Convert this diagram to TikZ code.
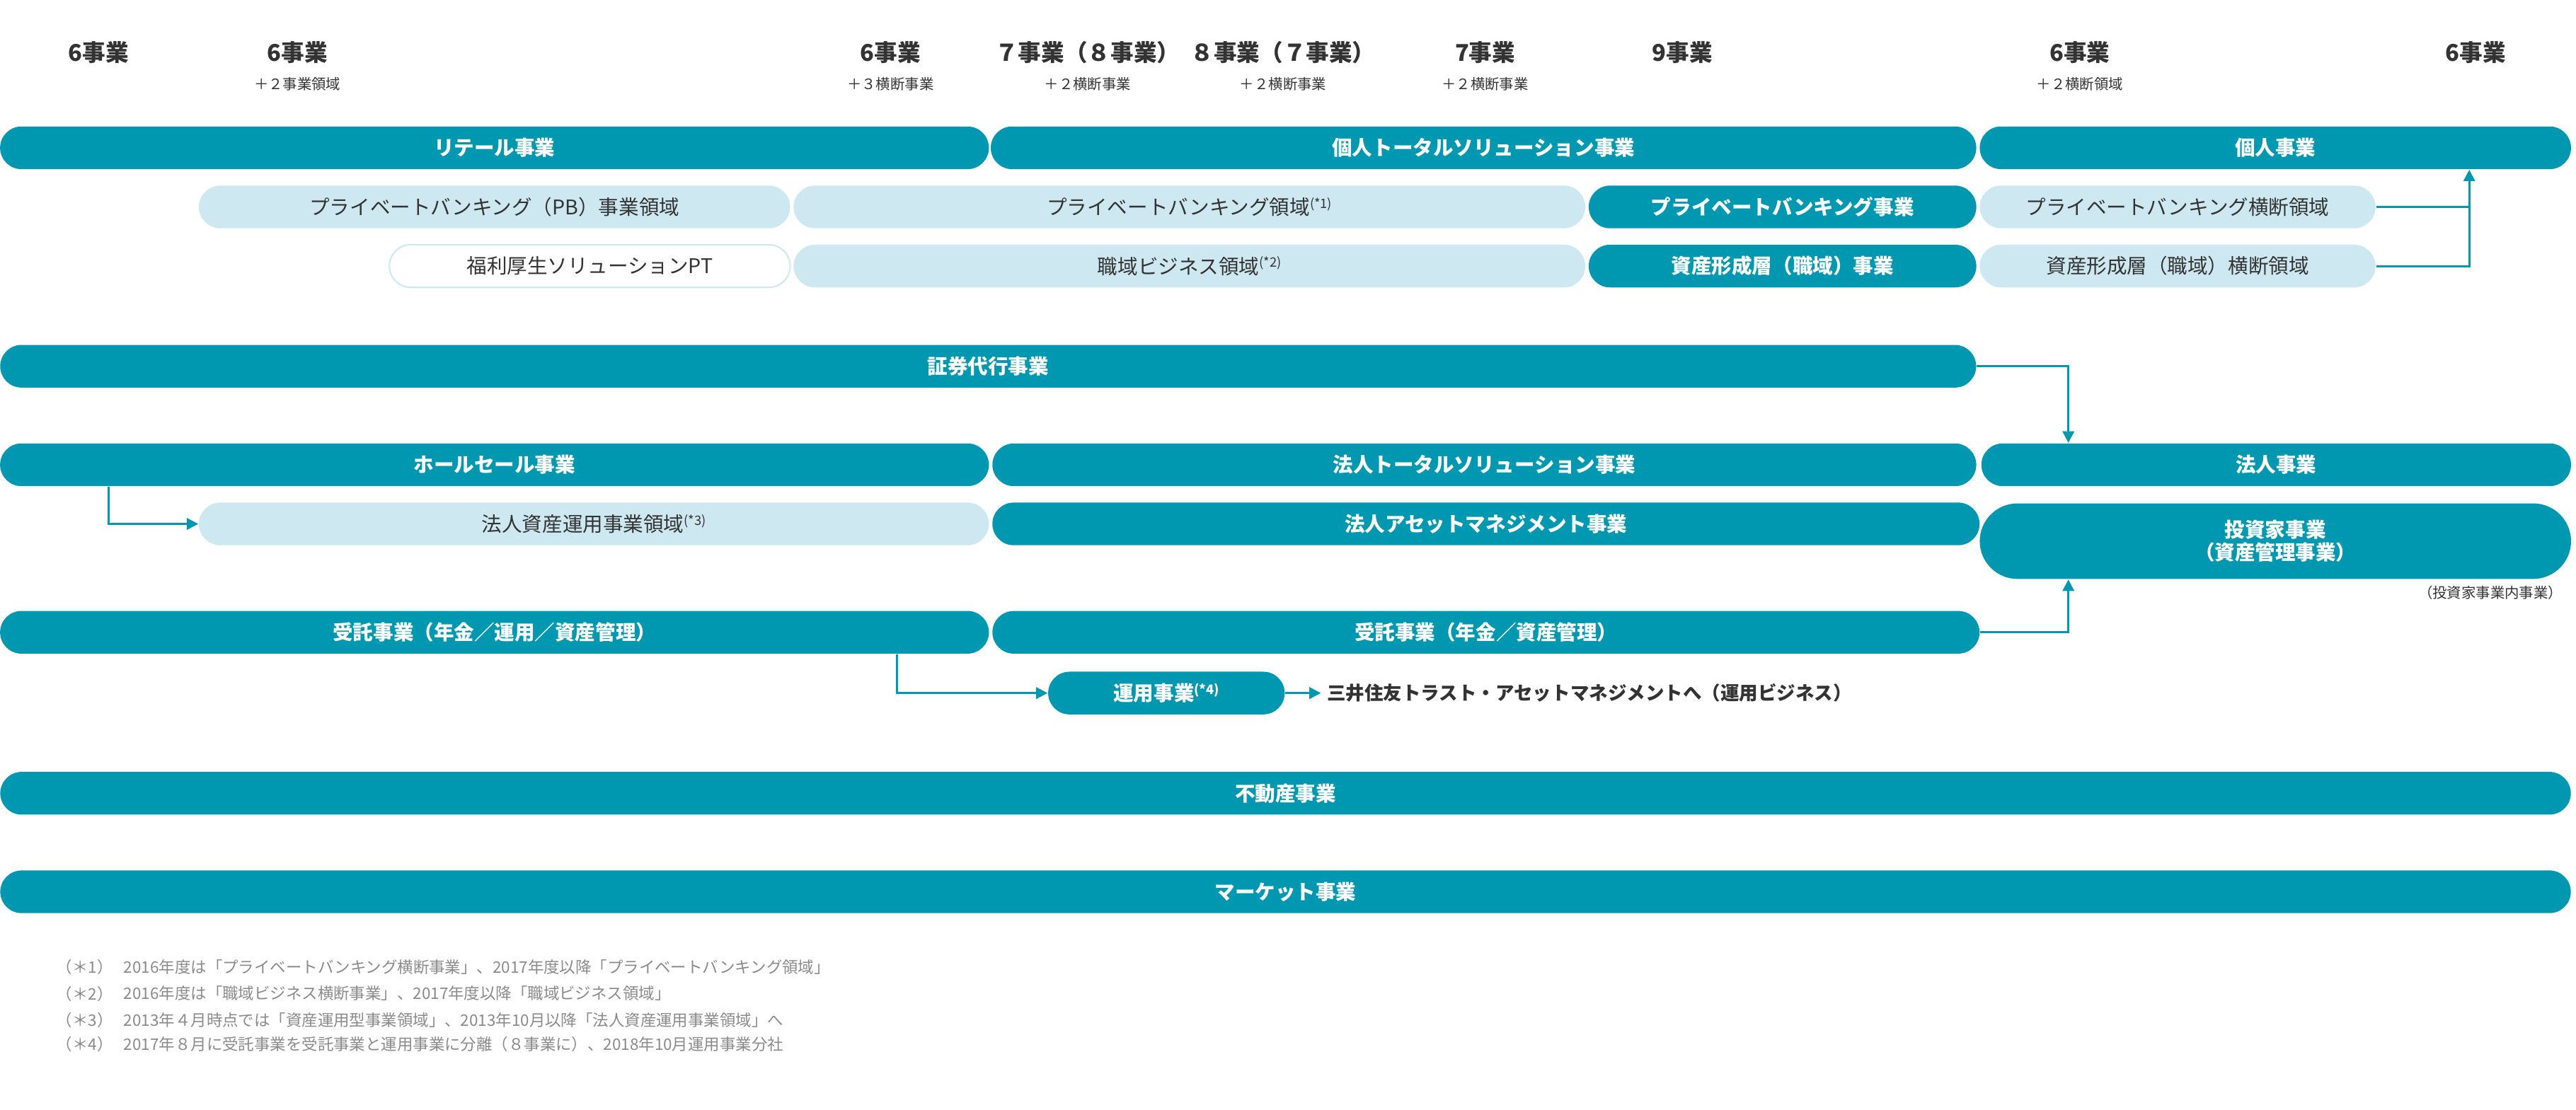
\documentclass[tikz,border=0pt]{standalone}
\usepackage{fontspec}
\setmainfont{Noto Sans CJK JP}
\usetikzlibrary{arrows.meta}
\definecolor{teal}{HTML}{0097B0}
\definecolor{pale}{HTML}{CDE8F0}
\definecolor{txt}{HTML}{333333}
\definecolor{note}{HTML}{8A8A8A}
\newcommand{\fnmark}[1]{\raisebox{.6ex}{\fontsize{4.5}{5}\selectfont (*#1)}}
\tikzset{
  pill/.style={rectangle, rounded corners=0.26cm, minimum height=0.52cm, inner sep=0pt},
  bar/.style={pill, fill=teal, text=white, font=\fontsize{7}{8}\selectfont\bfseries},
  lightbar/.style={pill, fill=pale, text=txt, font=\fontsize{7}{8}\selectfont},
  whitebar/.style={pill, draw=pale, line width=0.5pt, fill=white, text=txt, font=\fontsize{7}{8}\selectfont},
  head/.style={font=\fontsize{8}{9}\selectfont\bfseries, text=txt},
  sub/.style={font=\fontsize{5}{6}\selectfont, text=txt},
  fn/.style={font=\fontsize{5.5}{6}\selectfont, text=note, anchor=west, inner sep=0pt},
  link/.style={draw=teal, line width=0.7pt},
  arr/.style={link, -{Triangle[length=4pt,width=4pt]}}
}
\begin{document}
\begin{tikzpicture}[x=0.02cm, y=-0.02cm]
  \useasboundingbox (0,0) rectangle (1568,675.5);
  % header counts
  \node[head] (h1) at (60,32) {6事業};
  \node[head] (h2) at (181,32) {6事業};
  \node[sub] (s2) at (181,51) {＋２事業領域};
  \node[head] (h3) at (542,32) {6事業};
  \node[sub] (s3) at (542,51) {＋３横断事業};
  \node[head] (h4) at (662,32) {７事業（８事業）};
  \node[sub] (s4) at (662,51) {＋２横断事業};
  \node[head] (h5) at (781,32) {８事業（７事業）};
  \node[sub] (s5) at (781,51) {＋２横断事業};
  \node[head] (h6) at (904,32) {7事業};
  \node[sub] (s6) at (904,51) {＋２横断事業};
  \node[head] (h7) at (1024,32) {9事業};
  \node[head] (h8) at (1266,32) {6事業};
  \node[sub] (s8) at (1266,51) {＋２横断領域};
  \node[head] (h9) at (1507,32) {6事業};

  % individual business
  \node[bar, minimum width=12.04cm] (retail) at (301,90) {リテール事業};
  \node[bar, minimum width=12.0cm] (kojinTS) at (903,90) {個人トータルソリューション事業};
  \node[bar, minimum width=7.2cm] (kojin) at (1385,90) {個人事業};
  \node[lightbar, minimum width=7.2cm] (pbRyoiki) at (301,126) {プライベートバンキング（PB）事業領域};
  \node[lightbar, minimum width=9.64cm] (pbArea) at (724,126) {プライベートバンキング領域\fnmark{1}};
  \node[bar, minimum width=4.72cm] (pbJigyo) at (1085,126) {プライベートバンキング事業};
  \node[lightbar, minimum width=4.82cm] (pbOdan) at (1325.5,126) {プライベートバンキング横断領域};
  \node[whitebar, minimum width=4.88cm] (fukuri) at (359,162) {福利厚生ソリューションPT};
  \node[lightbar, minimum width=9.64cm] (shokuiki) at (724,162) {職域ビジネス領域\fnmark{2}};
  \node[bar, minimum width=4.72cm] (shisan) at (1085,162) {資産形成層（職域）事業};
  \node[lightbar, minimum width=4.82cm] (shisanOdan) at (1325.5,162) {資産形成層（職域）横断領域};

  % securities agency
  \node[bar, minimum width=24.06cm] (shoken) at (601.5,223) {証券代行事業};

  % corporate business
  \node[bar, minimum width=12.04cm] (wholesale) at (301,283) {ホールセール事業};
  \node[bar, minimum width=11.98cm] (hojinTS) at (903.5,283) {法人トータルソリューション事業};
  \node[bar, minimum width=7.18cm] (hojin) at (1385.5,283) {法人事業};
  \node[lightbar, minimum width=9.62cm] (hojinShisan) at (361.5,319) {法人資産運用事業領域\fnmark{3}};
  \node[bar, minimum width=12.02cm] (hojinAM) at (904.5,319) {法人アセットマネジメント事業};
  \node[bar, minimum width=7.2cm, minimum height=0.92cm, rounded corners=0.46cm, align=center] (toshika) at (1385,329.5) {投資家事業\\（資産管理事業）};
  \node[sub, anchor=east] (toshikaNote) at (1566,361) {（投資家事業内事業）};
  \node[bar, minimum width=12.04cm] (jutaku1) at (301,385) {受託事業（年金／運用／資産管理）};
  \node[bar, minimum width=12.02cm] (jutaku2) at (904.5,385) {受託事業（年金／資産管理）};
  \node[bar, minimum width=2.88cm] (unyo) at (710,422) {運用事業\fnmark{4}};
  \node[font=\fontsize{6.5}{7}\selectfont\bfseries, text=txt, anchor=west, inner sep=2pt] (mitsui) at (804,422) {三井住友トラスト・アセットマネジメントへ（運用ビジネス）};

  % other businesses
  \node[bar, minimum width=31.3cm] (fudosan) at (782.5,483) {不動産事業};
  \node[bar, minimum width=31.3cm] (market) at (782.5,543) {マーケット事業};

  % connectors
  \coordinate (kj) at (1503,0);
  \coordinate (hj) at (1259,0);
  \coordinate (ws) at (66,0);
  \coordinate (ju) at (546,0);
  \draw[arr] (pbOdan.east) -| (kojin.south -| kj);
  \draw[link] (shisanOdan.east) -| (pbOdan.east -| kj);
  \draw[arr] (shoken.east) -| (hojin.north -| hj);
  \draw[arr] (wholesale.south -| ws) |- (hojinShisan.west);
  \draw[arr] (jutaku2.east) -| (toshika.south -| hj);
  \draw[arr] (jutaku1.south -| ju) |- (unyo.west);
  \draw[arr] (unyo.east) -- (mitsui.west);

  % notes
  \node[fn] (m1) at (34,589) {（＊1）};
  \node[fn] (n1) at (75,589) {2016年度は「プライベートバンキング横断事業」、2017年度以降「プライベートバンキング領域」};
  \node[fn] (m2) at (34,605) {（＊2）};
  \node[fn] (n2) at (75,605) {2016年度は「職域ビジネス横断事業」、2017年度以降「職域ビジネス領域」};
  \node[fn] (m3) at (34,621) {（＊3）};
  \node[fn] (n3) at (75,621) {2013年４月時点では「資産運用型事業領域」、2013年10月以降「法人資産運用事業領域」へ};
  \node[fn] (m4) at (34,636) {（＊4）};
  \node[fn] (n4) at (75,636) {2017年８月に受託事業を受託事業と運用事業に分離（８事業に）、2018年10月運用事業分社};
\end{tikzpicture}
\end{document}
